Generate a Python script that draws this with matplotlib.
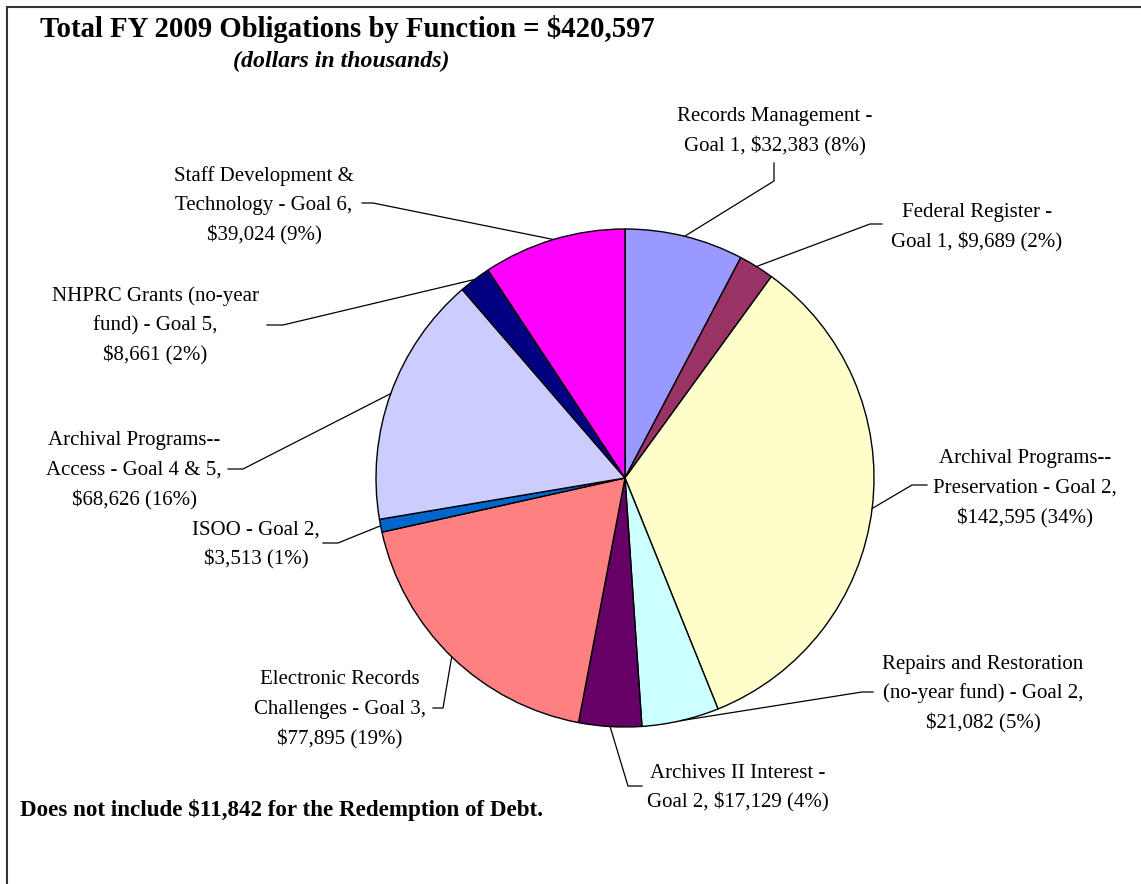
import numpy as np
import matplotlib
matplotlib.use("Agg")
from matplotlib import pyplot as plt

# FY 2009 obligations by function (dollars in thousands), clockwise from 12 o'clock
functions = ["Records Management", "Federal Register", "Archival Programs--Preservation",
             "Repairs and Restoration", "Archives II Interest", "Electronic Records Challenges",
             "ISOO", "Archival Programs--Access", "NHPRC Grants", "Staff Development & Technology"]
amounts = [32383, 9689, 142595, 21082, 17129, 77895, 3513, 68626, 8661, 39024]
percents = [8, 2, 34, 5, 4, 19, 1, 16, 2, 9]
label_lines = [
    ["Records Management -", "Goal 1, $32,383 (8%)"],
    ["Federal Register -", "Goal 1, $9,689 (2%)"],
    ["Archival Programs--", "Preservation - Goal 2,", "$142,595 (34%)"],
    ["Repairs and Restoration", "(no-year fund) - Goal 2,", "$21,082 (5%)"],
    ["Archives II Interest -", "Goal 2, $17,129 (4%)"],
    ["Electronic Records", "Challenges - Goal 3,", "$77,895 (19%)"],
    ["ISOO - Goal 2,", "$3,513 (1%)"],
    ["Archival Programs--", "Access - Goal 4 & 5,", "$68,626 (16%)"],
    ["NHPRC Grants (no-year", "fund) - Goal 5,", "$8,661 (2%)"],
    ["Staff Development &", "Technology - Goal 6,", "$39,024 (9%)"],
]
colors = ["#9999FF", "#993366", "#FFFFCC", "#CCFFFF", "#660066",
          "#FF8080", "#0066CC", "#CCCCFF", "#000080", "#FF00FF"]

# layout in pixels: label center x, first line y, leader elbow and end
label_pos = [(775, 117), (977, 213), (1025, 459), (983, 664), (738, 773),
             (340, 680), (256, 530), (134, 441), (155, 296), (264, 176)]
leader = [((774, 181), (774, 163)), ((870, 224), (882, 224)), ((912, 485), (927, 485)),
          ((862, 692), (873, 692)), ((628, 786), (642, 786)), ((443, 708), (433, 708)),
          ((338, 543), (323, 543)), ((243, 469), (228, 469)), ((283, 325), (267, 325)),
          ((373, 203), (362, 203))]

W, H = 1141, 884
fig = plt.figure(figsize=(W / 100, H / 100), dpi=100)
plt.rcParams["font.family"] = ["Liberation Serif", "DejaVu Serif"]

cx, cy, r = 625, 478, 249
ax = fig.add_axes([(cx - r) / W, (H - cy - r) / H, 2 * r / W, 2 * r / H])
wedges, _ = ax.pie(amounts, colors=colors, startangle=90, counterclock=False,
                   wedgeprops=dict(edgecolor="black", linewidth=1.0))
ax.set_xlim(-1, 1)
ax.set_ylim(-1, 1)
ax.set_aspect("equal")

ov = fig.add_axes([0, 0, 1, 1])
ov.set_xlim(0, W)
ov.set_ylim(H, 0)
ov.axis("off")

# frame
ov.plot([7, 7], [H, 7], color="#333333", lw=1.5)
ov.plot([7, W], [7, 7], color="#333333", lw=1.5)

fs = 15
for w, lines, (lx, ly), (elbow, end) in zip(wedges, label_lines, label_pos, leader):
    ang = np.deg2rad((w.theta1 + w.theta2) / 2)
    disp = ax.transData.transform((np.cos(ang), np.sin(ang)))
    ex, ey = ov.transData.inverted().transform(disp)
    ov.plot([ex, elbow[0], end[0]], [ey, elbow[1], end[1]], color="black", lw=0.9)
    for i, t in enumerate(lines):
        ov.text(lx, ly + i * 29.5, t, ha="center", va="center", fontsize=fs)

ov.text(40, 29, "Total FY 2009 Obligations by Function = $420,597", fontsize=20.7,
        fontweight="bold", ha="left", va="center")
ov.text(233, 61, "(dollars in thousands)", fontsize=17.2, fontweight="bold",
        fontstyle="italic", ha="left", va="center")
ov.text(20, 810, "Does not include $11,842 for the Redemption of Debt.", fontsize=16.6,
        fontweight="bold", ha="left", va="center")

fig.savefig("out.png", dpi=100)
